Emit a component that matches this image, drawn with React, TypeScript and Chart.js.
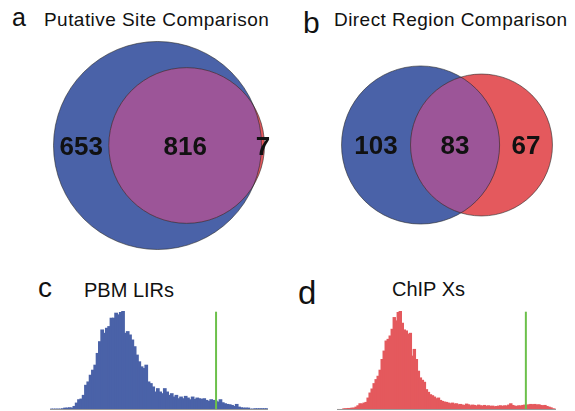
import React, { useEffect, useRef } from "react";
import { Chart, registerables } from "chart.js";
Chart.register(...registerables);

// ---------- data ----------
const vennATitle = "Putative Site Comparison";
const vennACounts = [653, 816, 7]; // only-left, both, only-right
const vennBTitle = "Direct Region Comparison";
const vennBCounts = [103, 83, 67];

const pbmTitle = "PBM LIRs";
const pbmLirs = [
  2, 2, 2, 2, 2, 3, 5, 5, 6, 5, 10, 20, 30, 32, 43, 73, 83, 103, 118, 133,
  168, 203, 238, 228, 243, 248, 273, 273, 288, 283, 290, 293, 228, 233, 223, 208, 188, 163, 143, 128,
  123, 133, 83, 78, 68, 53, 63, 53, 48, 63, 53, 43, 48, 38, 43, 33, 38, 33, 40, 35,
  30, 38, 31, 35, 33, 31, 33, 28, 25, 30, 28, 26, 23, 30, 21, 18, 16, 15, 13, 10,
  16, 8, 6, 5, 5, 5, 2, 2, 3, 3, 3, 3, 3, 3,
];
const pbmThreshold = 71.1;

const chipTitle = "ChIP Xs";
const chipXs = [
  1, 1, 1, 3, 3, 4, 4, 5, 5, 8, 12, 18, 17, 20, 22, 35, 50, 62, 78, 90,
  100, 118, 150, 175, 205, 210, 220, 240, 275, 265, 290, 293, 258, 238, 235, 225, 228, 160, 180, 150,
  115, 95, 88, 82, 60, 52, 45, 42, 38, 33, 35, 28, 25, 23, 22, 20, 18, 20, 17, 18,
  15, 16, 14, 13, 17, 15, 12, 14, 13, 11, 14, 12, 11, 13, 10, 12, 10, 11, 9, 10,
  11, 12, 10, 12, 11, 14, 18, 13, 11, 10, 12, 11, 13, 14, 13, 15, 16, 15, 16, 14,
  15, 13, 12, 13, 10, 8, 6, 3, 2,
];
const chipThreshold = 93.5;

// ---------- styles ----------
const BLUE = "#4A62A8";
const RED = "#E4595D";
const PURPLE = "#9C5598";
const GREEN = "#6CC04B";
const FONT = "'Liberation Sans', Arial, Helvetica, sans-serif";

// ---------- venn geometry ----------
function lensArea(d: number, r1: number, r2: number) {
  if (d >= r1 + r2) return 0;
  if (d <= Math.abs(r1 - r2)) return Math.PI * Math.min(r1, r2) ** 2;
  const a1 = r1 * r1 * Math.acos((d * d + r1 * r1 - r2 * r2) / (2 * d * r1));
  const a2 = r2 * r2 * Math.acos((d * d + r2 * r2 - r1 * r1) / (2 * d * r2));
  const t = 0.5 * Math.sqrt((-d + r1 + r2) * (d + r1 - r2) * (d - r1 + r2) * (d + r1 + r2));
  return a1 + a2 - t;
}
function vennLayout(counts: number[]) {
  const [a, both, b] = counts;
  const r1 = Math.sqrt((a + both) / Math.PI);
  const r2 = Math.sqrt((b + both) / Math.PI);
  let lo = Math.abs(r1 - r2), hi = r1 + r2;
  for (let i = 0; i < 80; i++) {
    const mid = (lo + hi) / 2;
    if (lensArea(mid, r1, r2) > both) lo = mid; else hi = mid;
  }
  const d = (lo + hi) / 2;
  const c1 = (r1 - d - r2) / 2;
  const c2 = c1 + d;
  return { r1, r2, c1, c2 };
}

const vennPlugin = {
  id: "vennDraw",
  afterDatasetsDraw(chart: any) {
    const opts = chart.options.plugins.vennDraw;
    if (!opts) return;
    const { counts } = opts;
    const { r1, r2, c1, c2 } = vennLayout(counts);
    const xs = chart.scales.x, ys = chart.scales.y;
    const px = (v: number) => xs.getPixelForValue(v);
    const cy = ys.getPixelForValue(0);
    const p1 = px(c1), p2 = px(c2);
    const R1 = px(c1 + r1) - p1, R2 = px(c2 + r2) - p2;
    const ctx = chart.ctx;
    ctx.save();
    const circ = (x: number, r: number) => { ctx.beginPath(); ctx.arc(x, cy, r, 0, Math.PI * 2); };
    circ(p1, R1); ctx.fillStyle = BLUE; ctx.fill();
    circ(p2, R2); ctx.fillStyle = RED; ctx.fill();
    ctx.save();
    circ(p1, R1); ctx.clip();
    circ(p2, R2); ctx.fillStyle = PURPLE; ctx.fill();
    ctx.restore();
    ctx.strokeStyle = "rgba(40,40,40,0.75)";
    ctx.lineWidth = 0.8;
    circ(p1, R1); ctx.stroke();
    circ(p2, R2); ctx.stroke();
    // labels
    ctx.fillStyle = "#111";
    ctx.font = `bold 26px ${FONT}`;
    ctx.textAlign = "center";
    ctx.textBaseline = "middle";
    const lx = [
      (px(c1 - r1) + px(c2 - r2)) / 2,
      (px(c2 - r2) + px(c1 + r1)) / 2,
      (px(c1 + r1) + px(c2 + r2)) / 2,
    ];
    counts.forEach((c: number, i: number) => ctx.fillText(String(c), lx[i], cy + 2));
    ctx.restore();
  },
};

const baselinePlugin = {
  id: "baseline",
  afterDatasetsDraw(chart: any) {
    const { ctx, chartArea } = chart;
    ctx.save();
    ctx.strokeStyle = "#9a9a9a";
    ctx.lineWidth = 1;
    ctx.beginPath();
    ctx.moveTo(chartArea.left, chartArea.bottom - 0.5);
    ctx.lineTo(chartArea.right, chartArea.bottom - 0.5);
    ctx.stroke();
    ctx.restore();
  },
};

type Rect = { left: number; top: number; width: number; height: number };

function VennPanel({ counts, rect, centerX, centerY, ppu }: { counts: number[]; rect: Rect; centerX: number; centerY: number; ppu: number }) {
  const ref = useRef<HTMLCanvasElement>(null);
  useEffect(() => {
    const { c1, c2 } = vennLayout(counts);
    const chart = new Chart(ref.current as HTMLCanvasElement, {
      type: "scatter",
      data: { datasets: [{ data: [{ x: c1, y: 0 }, { x: c2, y: 0 }], pointRadius: 0 } as any] },
      options: {
        responsive: false,
        animation: false,
        devicePixelRatio: 1,
        layout: { padding: 0 },
        plugins: { legend: { display: false }, tooltip: { enabled: false }, vennDraw: { counts } } as any,
        scales: {
          x: { type: "linear", display: false, min: -(centerX - rect.left) / ppu, max: (rect.left + rect.width - centerX) / ppu },
          y: { type: "linear", display: false, min: -(rect.top + rect.height - centerY) / ppu, max: (centerY - rect.top) / ppu },
        },
      },
      plugins: [vennPlugin],
    });
    return () => chart.destroy();
  }, []);
  return (
    <div style={{ position: "absolute", left: rect.left, top: rect.top, width: rect.width, height: rect.height }}>
      <canvas ref={ref} width={rect.width} height={rect.height} />
    </div>
  );
}

function HistPanel({ values, threshold, color, rect, yMax }: { values: number[]; threshold: number; color: string; rect: Rect; yMax: number }) {
  const ref = useRef<HTMLCanvasElement>(null);
  useEffect(() => {
    const peak = Math.max(...values);
    const chart = new Chart(ref.current as HTMLCanvasElement, {
      type: "bar",
      data: {
        datasets: [
          { type: "line", data: [{ x: threshold, y: 0 }, { x: threshold, y: peak }], borderColor: GREEN, borderWidth: 2, pointRadius: 0, order: 0 } as any,
          {
            type: "bar",
            data: values.map((v, i) => ({ x: i, y: v })),
            backgroundColor: color,
            borderWidth: 0,
            barPercentage: 1,
            categoryPercentage: 1,
            inflateAmount: 0.7,
            order: 1,
          } as any,
        ],
      },
      options: {
        responsive: false,
        animation: false,
        devicePixelRatio: 1,
        layout: { padding: 0 },
        plugins: { legend: { display: false }, tooltip: { enabled: false } },
        scales: {
          x: { type: "linear", display: false, offset: false, min: -0.5, max: values.length - 0.5 },
          y: { display: false, min: 0, max: yMax },
        },
      },
      plugins: [baselinePlugin],
    });
    return () => chart.destroy();
  }, []);
  return (
    <div style={{ position: "absolute", left: rect.left, top: rect.top, width: rect.width, height: rect.height }}>
      <canvas ref={ref} width={rect.width} height={rect.height} />
    </div>
  );
}

function Label({ text, left, baseline, size, spacing = 0 }: { text: string; left: number; baseline: number; size: number; spacing?: number }) {
  return (
    <div
      style={{
        position: "absolute",
        left,
        top: baseline - 0.8465 * size,
        fontFamily: FONT,
        fontSize: size,
        lineHeight: `${size}px`,
        letterSpacing: spacing,
        color: "#111",
        whiteSpace: "nowrap",
      }}
    >
      {text}
    </div>
  );
}

export default function App() {
  return (
    <div style={{ position: "absolute", left: 0, top: 0, width: 575, height: 411, background: "#fff", overflow: "hidden" }}>
      <Label text="a" left={12} baseline={26} size={25} />
      <Label text={vennATitle} left={44} baseline={26} size={19} spacing={0.45} />
      <Label text="b" left={303} baseline={33} size={30} />
      <Label text={vennBTitle} left={334} baseline={26} size={19} spacing={0.45} />
      <Label text="c" left={38} baseline={298} size={28} />
      <Label text={pbmTitle} left={84} baseline={297} size={20} />
      <Label text="d" left={298} baseline={304} size={33} />
      <Label text={chipTitle} left={392} baseline={296} size={20} />

      <VennPanel counts={vennACounts} rect={{ left: 24, top: 30, width: 270, height: 231 }} centerX={159} centerY={145.5} ppu={4.81} />
      <VennPanel counts={vennBCounts} rect={{ left: 317, top: 35, width: 258, height: 220 }} centerX={447} centerY={145} ppu={10.27} />

      <HistPanel values={pbmLirs} threshold={pbmThreshold} color={BLUE} rect={{ left: 50, top: 305, width: 218, height: 105 }} yMax={313} />
      <HistPanel values={chipXs} threshold={chipThreshold} color={RED} rect={{ left: 337, top: 305, width: 219, height: 105 }} yMax={313} />
    </div>
  );
}
